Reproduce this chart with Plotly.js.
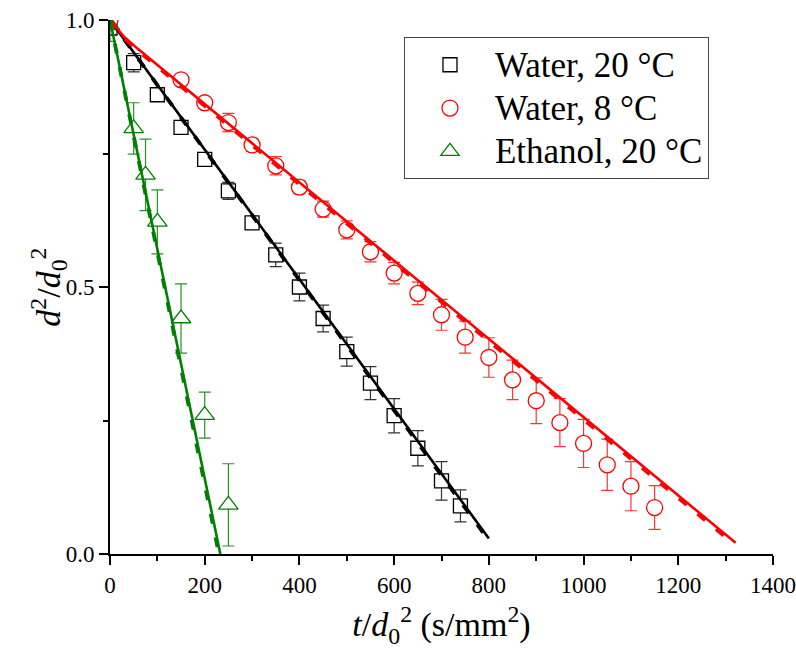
<!DOCTYPE html>
<html>
<head>
<meta charset="utf-8">
<script src="https://cdn.plot.ly/plotly-3.0.1.min.js"></script>
<style>html,body{margin:0;padding:0;background:#fff;}#chart{width:796px;height:653px;}</style>
</head>
<body>
<div id="chart"></div>
<script>
// ---- measured data ----
const seriesNames = ["Water, 20 °C", "Water, 8 °C", "Ethanol, 20 °C"];

const water20X   = [0, 50, 100, 150, 200, 250, 300, 350, 400, 450, 500, 550, 600, 650, 700, 740];
const water20Y   = [0.985, 0.920, 0.860, 0.799, 0.739, 0.680, 0.620, 0.560, 0.500, 0.441, 0.379, 0.320, 0.259, 0.198, 0.137, 0.090];
const water20Err = [0.010, 0.017, 0.008, 0.010, 0.010, 0.016, 0.012, 0.022, 0.026, 0.025, 0.027, 0.031, 0.032, 0.033, 0.036, 0.030];

const water8X   = [0, 150, 200, 250, 300, 350, 400, 450, 500, 550, 600, 650, 700, 750, 800, 850, 900, 950, 1000, 1050, 1100, 1150];
const water8Y   = [1.0, 0.888, 0.845, 0.808, 0.766, 0.727, 0.687, 0.646, 0.607, 0.566, 0.526, 0.488, 0.448, 0.406, 0.368, 0.326, 0.287, 0.246, 0.207, 0.167, 0.127, 0.087];
const water8Err = [0.005, 0.008, 0.010, 0.017, 0.012, 0.017, 0.012, 0.015, 0.017, 0.019, 0.020, 0.021, 0.029, 0.030, 0.037, 0.037, 0.043, 0.045, 0.045, 0.048, 0.046, 0.041];

const ethanolX   = [0, 50, 75, 100, 150, 200, 250];
const ethanolY   = [0.990, 0.797, 0.710, 0.622, 0.441, 0.260, 0.092];
const ethanolErr = [0.030, 0.048, 0.067, 0.060, 0.065, 0.043, 0.077];

// fitted curves (solid) and model curves (dashed)
const fitWater20X = [0, 800],             fitWater20Y = [1.0, 0.029];
const modWater20X = [0, 788],             modWater20Y = [1.0, 0.040];
const fitWater8X  = [0, 30, 60, 1321],    fitWater8Y  = [1.0, 0.968, 0.945, 0.021];
const modWater8X  = [0, 30, 60, 1309],    modWater8Y  = [1.0, 0.966, 0.942, 0.025];
const fitEthX     = [0, 233],             fitEthY     = [1.0, 0.0];
const modEthX     = [0, 230],             modEthY     = [1.0, 0.0];

const xTickVals = [0, 200, 400, 600, 800, 1000, 1200, 1400];
const yTickVals = [0, 0.5, 1.0];
const yTickText = ["0.0", "0.5", "1.0"];
const xTitle = "<i>t</i>/<i>d</i><sub>0</sub><sup>2</sup> (s/mm<sup>2</sup>)";
const yTitle = "<i>d</i><sup>2</sup>/<i>d</i><sub>0</sub><sup>2</sup>";

// ---- styling ----
const FONT = "Liberation Serif, Times New Roman, serif";
const BLACK = "#000000", RED = "#ff0000", GREEN = "#008000";
const legendLabel = s => '<span style="font-size:35px">' + s + '</span>';

function pts(name, x, y, err, color, symbol, size, errColor) {
  return {
    type: "scatter", mode: "markers", name: legendLabel(name), x: x, y: y,
    cliponaxis: true,
    marker: {symbol: symbol, size: size, color: "#ffffff", line: {color: color, width: 1.3}},
    error_y: {type: "data", array: err, visible: true, color: errColor, thickness: 1.2, width: 6}
  };
}
function line(x, y, color, dash, width) {
  return {
    type: "scatter", mode: "lines", x: x, y: y, showlegend: false, hoverinfo: "skip",
    line: {color: color, width: width, dash: dash}
  };
}

const data = [
  pts(seriesNames[0], water20X, water20Y, water20Err, BLACK, "square", 14, "#333333"),
  pts(seriesNames[1], water8X, water8Y, water8Err, RED, "circle", 16, "#ff3333"),
  pts(seriesNames[2], ethanolX, ethanolY, ethanolErr, GREEN, "triangle-up", 17, "#2a8f2a"),
  line(modWater20X, modWater20Y, BLACK, "10px,14px", 3.8),
  line(fitWater20X, fitWater20Y, BLACK, "solid", 2.6),
  line(modWater8X, modWater8Y, RED, "10px,14px", 3.8),
  line(fitWater8X, fitWater8Y, RED, "solid", 2.6),
  line(modEthX, modEthY, GREEN, "10px,14px", 3.8),
  line(fitEthX, fitEthY, GREEN, "solid", 2.6)
];

const layout = {
  width: 796, height: 653,
  margin: {l: 110, r: 23, t: 20, b: 99, pad: 0},
  paper_bgcolor: "#ffffff", plot_bgcolor: "#ffffff",
  font: {family: FONT, color: "#000000", size: 22},
  showlegend: true,
  legend: {
    x: 0.4434, y: 0.968, xanchor: "left", yanchor: "top",
    bgcolor: "#ffffff", bordercolor: "#444444", borderwidth: 1,
    font: {family: FONT, size: 31, color: "#000000"},
    itemwidth: 80, tracegroupgap: 0
  },
  xaxis: {
    range: [0, 1400], tickvals: xTickVals, ticks: "outside", ticklen: 9, tickwidth: 2, tickcolor: "#000",
    showline: true, linewidth: 2, linecolor: "#000", mirror: false,
    showgrid: false, zeroline: false,
    minor: {dtick: 100, tick0: 0, ticks: "outside", ticklen: 5, tickwidth: 2, tickcolor: "#000", showgrid: false},
    tickfont: {family: FONT, size: 23},
    title: {text: xTitle, font: {family: FONT, size: 34}, standoff: 16}
  },
  yaxis: {
    range: [0, 1], tickvals: yTickVals, ticktext: yTickText, ticks: "outside", ticklen: 9, tickwidth: 2, tickcolor: "#000",
    showline: true, linewidth: 2, linecolor: "#000", mirror: false,
    showgrid: false, zeroline: false,
    minor: {dtick: 0.25, tick0: 0, ticks: "outside", ticklen: 5, tickwidth: 2, tickcolor: "#000", showgrid: false},
    tickfont: {family: FONT, size: 23}
  },
  annotations: [{
    text: yTitle, xref: "paper", yref: "paper", x: -0.094, y: 0.5,
    xanchor: "center", yanchor: "middle", textangle: -90, showarrow: false,
    font: {family: FONT, size: 34, color: "#000"}
  }]
};

Plotly.newPlot("chart", data, layout, {staticPlot: true, displayModeBar: false});
</script>
</body>
</html>
